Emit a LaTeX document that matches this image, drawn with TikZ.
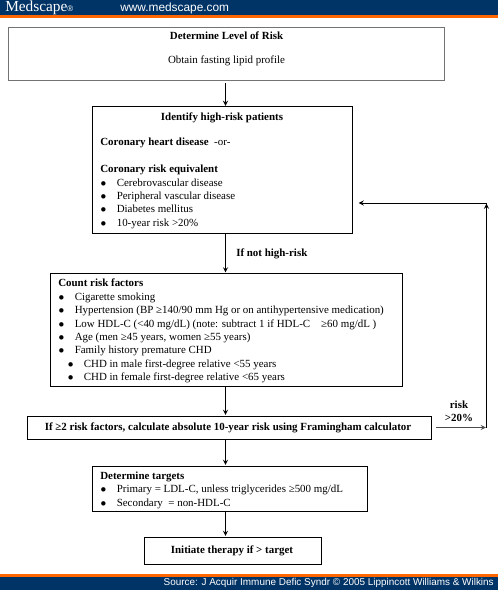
\documentclass[tikz,border=0pt]{standalone}
\usepackage{fontspec}
\setmainfont{Liberation Serif}
\setsansfont{Liberation Sans}
\usetikzlibrary{positioning}
\definecolor{navy}{RGB}{0,51,102}
\definecolor{bandorange}{RGB}{255,102,0}
\newcommand{\bul}[1]{\makebox[12.4pt][l]{\hspace{0.2pt}$\bullet$}#1}
\newcommand{\subbul}[1]{\makebox[7.2pt][l]{}\makebox[12pt][l]{$\bullet$}#1}
\begin{document}
\begin{tikzpicture}[x=0.75pt,y=-0.75pt,line join=miter,>=stealth]
	\tikzset{every node/.style={font=\fontsize{8.2}{10.05}\selectfont},
		flowbox/.style={draw,line width=0.75pt,rectangle,inner sep=0pt},
		listtext/.style={anchor=north west,align=left,inner sep=0pt},
		flowline/.style={->,line width=0.7pt,shorten >=0.5pt},
		band/.style={font=\sffamily\fontsize{7.45}{10}\selectfont,text=white,inner sep=0pt}}
	\useasboundingbox (0,0) rectangle (498,590);
	% top and bottom bands
	\fill[navy] (0,0) rectangle (498,15);
	\fill[bandorange] (0,15) rectangle (498,17.5);
	\fill[bandorange] (0,574) rectangle (498,576.5);
	\fill[navy] (0,576.5) rectangle (498,590);
	\node[band,anchor=west,font=\rmfamily\fontsize{11.5}{12}\selectfont] (brand) at (5,8) {Medscape\raisebox{0pt}{\fontsize{6}{7}\selectfont\sffamily ®}};
	\node[band,anchor=west,font=\sffamily\fontsize{8.9}{10}\selectfont] (site) at (120,8) {www.medscape.com};
	\node[band,anchor=east] (source) at (494,583) {Source: J Acquir Immune Defic Syndr © 2005 Lippincott Williams \& Wilkins};
	% boxes
	\node[flowbox,draw=black!55,minimum width=327pt,minimum height=39.75pt] (level) at (226.5,54) {};
	\node[flowbox,minimum width=195pt,minimum height=94.9pt] (high) at (222,170.25) {};
	\node[flowbox,minimum width=264pt,minimum height=85pt] (count) at (226,330.25) {};
	\node[flowbox,minimum width=303pt,minimum height=17.25pt] (calc) at (229,427.5) {};
	\node[flowbox,minimum width=206.25pt,minimum height=33.75pt] (targets) at (229.5,488.5) {};
	\node[flowbox,minimum width=133.1pt,minimum height=20.25pt] (start) at (233.25,550.5) {};
	% box texts
	\node[align=center] (leveltitle) at (226.5,35.5) {\textbf{Determine Level of Risk}};
	\node[align=center] (levelsub) at (226.5,60.5) {Obtain fasting lipid profile};
	\node[align=center] (hightitle) at (222,118) {\textbf{Identify high-risk patients}};
	\node[listtext] (highlist) at (100,138) {\textbf{Coronary heart disease}\ \ -or-\\[10.05pt]
		\textbf{Coronary risk equivalent}\\
		\bul{Cerebrovascular disease}\\
		\bul{Peripheral vascular disease}\\
		\bul{Diabetes mellitus}\\
		\bul{10-year risk >20\%}};
	\node[listtext] (countlist) at (58,279) {\textbf{Count risk factors}\\
		\bul{Cigarette smoking}\\
		\bul{Hypertension (BP ≥140/90 mm Hg or on antihypertensive medication)}\\
		\bul{Low HDL-C (<40 mg/dL) (note: subtract 1 if HDL-C \ \ \ ≥60 mg/dL )}\\
		\bul{Age (men ≥45 years, women ≥55 years)}\\
		\bul{Family history premature CHD}\\
		\subbul{CHD in male first-degree relative <55 years}\\
		\subbul{CHD in female first-degree relative <65 years}};
	\node (calctext) at (228,427.5) {\textbf{If ≥2 risk factors, calculate absolute 10-year risk using Framingham calculator}};
	\node[listtext] (targetlist) at (100,471.5) {\textbf{Determine targets}\\
		\bul{Primary = LDL-C, unless triglycerides ≥500 mg/dL}\\
		\bul{Secondary \ = non-HDL-C}};
	\node (starttext) at (232,551) {\textbf{Initiate therapy if > target}};
	% labels on connectors
	\node[anchor=west,inner sep=0pt] (nothigh) at (236,254) {\textbf{If not high-risk}};
	\node[align=center,inner sep=0pt] (risk) at (459,411.5) {\textbf{risk}\\\textbf{>20\%}};
	% connectors
	\coordinate (spine) at (225.5,0);
	\coordinate (loopcorner) at (486.5,203);
	\coordinate (loopstart) at (436,427.5);
	\coordinate (looptip) at (358,203);
	\draw[flowline] (level.south -| spine)++(0,2) -- (high.north -| spine);
	\draw[flowline] (high.south -| spine) -- (count.north -| spine);
	\draw[flowline] (count.south -| spine) -- (calc.north -| spine);
	\draw[flowline] (calc.south -| spine) -- (targets.north -| spine);
	\draw[flowline] (targets.south -| spine) -- (start.north -| spine);
	\draw[flowline,black!70] (loopstart) -- (loopstart -| loopcorner);
	\draw[flowline] (loopstart -| loopcorner) -- (loopcorner);
	\draw[flowline] (loopcorner) -- (looptip);
\end{tikzpicture}
\end{document}
